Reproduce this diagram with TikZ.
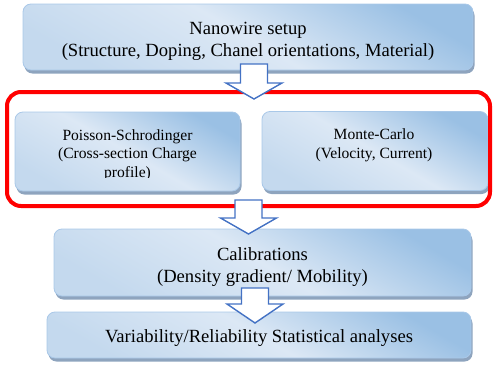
\documentclass[tikz,border=0pt]{standalone}
\usepackage{fontspec}
\setmainfont{Liberation Serif}
\usetikzlibrary{shadows,calc}

\definecolor{boxtop}{HTML}{9AC0E4}
\definecolor{boxmid}{HTML}{DCE8F5}
\definecolor{boxlow}{HTML}{C4D9EE}
\definecolor{boxedge}{HTML}{A9C8E8}
\definecolor{boxshade}{HTML}{8EA4BE}
\definecolor{arrowblue}{HTML}{4472C4}
\definecolor{groupred}{HTML}{FF0000}

\tikzset{
  stagebox/.style={
    rounded corners=8pt, draw=boxedge, line width=0.8pt,
    top color=boxtop, bottom color=boxlow, middle color=boxmid,
    shading angle=-30,
    drop shadow={shadow xshift=1.5pt, shadow yshift=-3.5pt, fill=boxshade, opacity=1},
    inner sep=0pt},
  stagetext/.style={align=center, inner sep=0pt, text=black},
  bigtext/.style={stagetext, font=\fontsize{18.6}{22}\selectfont},
  smalltext/.style={stagetext, font=\fontsize{15.6}{18.5}\selectfont},
  blockarrow/.style={draw=arrowblue, fill=white, line width=1.4pt, line join=miter},
  groupframe/.style={draw=groupred, line width=4pt, rounded corners=14pt}
}

\begin{document}
\begin{tikzpicture}[x=1pt,y=1pt]
\useasboundingbox (0,0) rectangle (493,-367);

% stage boxes
\node[stagebox, minimum width=450pt, minimum height=66pt] (setup) at (248,-37) {};
\node[stagebox, minimum width=225pt, minimum height=79pt] (poisson) at (127.5,-151.5) {};
\node[stagebox, minimum width=226pt, minimum height=79pt] (monte) at (375,-151) {};
\node[stagebox, minimum width=417pt, minimum height=67pt] (calib) at (262.5,-262.5) {};
\node[stagebox, minimum width=424pt, minimum height=46pt] (vari) at (259,-335) {};

% stage labels
\node[bigtext] (setupT) at ([yshift=-4.7pt]setup.center)
  {Nanowire setup\\(Structure, Doping, Chanel orientations, Material)};
\begin{scope}
  % the text frame of this stage cuts off the last line's descenders
  \clip (poisson.north west) rectangle ([yshift=14pt]poisson.south east);
  \node[smalltext] (poissonT) at ([yshift=-3.3pt]poisson.center)
    {Poisson-Schrodinger\\(Cross-section Charge\\profile)};
\end{scope}
\node[smalltext] (monteT) at ([xshift=-1pt,yshift=5.7pt]monte.center)
  {Monte-Carlo\\(Velocity, Current)};
\node[bigtext] (calibT) at ([yshift=-4.7pt]calib.center)
  {Calibrations\\(Density gradient/ Mobility)};
\node[bigtext] (variT) at ([yshift=-2.6pt]vari.center)
  {Variability/Reliability Statistical analyses};

% frame around the two simulation stages
\draw[groupframe] (7,-92) rectangle (490,-206);

% hollow block arrows between stages
\newcommand{\hollowarrow}[4]{% x, top y, head y, tip y
  \draw[blockarrow] (#1-13.5,#2) -- (#1+13.5,#2) -- (#1+13.5,#3) -- (#1+28,#3)
    -- (#1,#4) -- (#1-28,#3) -- (#1-13.5,#3) -- cycle;}
\hollowarrow{254}{-64}{-83}{-99}
\hollowarrow{248.5}{-200}{-218}{-234}
\hollowarrow{255}{-288}{-304}{-323}
\end{tikzpicture}
\end{document}
